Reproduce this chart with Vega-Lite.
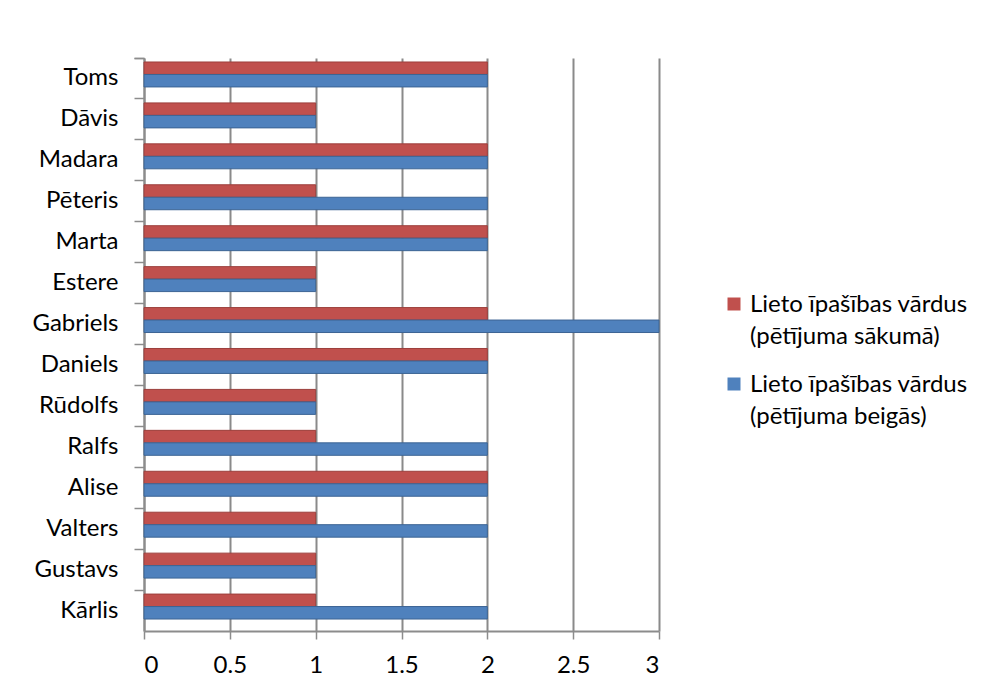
{
  "$schema": "https://vega.github.io/schema/vega-lite/v6.json",
  "autosize": "none",
  "width": 515,
  "height": 573,
  "padding": {"left": 144, "top": 58, "right": 329, "bottom": 69},
  "background": "white",
  "config": {"view": {"stroke": null}, "font": "Lato"},
  "data": {
    "values": [
      {"name": "Toms", "series": "Lieto īpašības vārdus|(pētījuma sākumā)", "value": 2},
      {"name": "Toms", "series": "Lieto īpašības vārdus|(pētījuma beigās)", "value": 2},
      {"name": "Dāvis", "series": "Lieto īpašības vārdus|(pētījuma sākumā)", "value": 1},
      {"name": "Dāvis", "series": "Lieto īpašības vārdus|(pētījuma beigās)", "value": 1},
      {"name": "Madara", "series": "Lieto īpašības vārdus|(pētījuma sākumā)", "value": 2},
      {"name": "Madara", "series": "Lieto īpašības vārdus|(pētījuma beigās)", "value": 2},
      {"name": "Pēteris", "series": "Lieto īpašības vārdus|(pētījuma sākumā)", "value": 1},
      {"name": "Pēteris", "series": "Lieto īpašības vārdus|(pētījuma beigās)", "value": 2},
      {"name": "Marta", "series": "Lieto īpašības vārdus|(pētījuma sākumā)", "value": 2},
      {"name": "Marta", "series": "Lieto īpašības vārdus|(pētījuma beigās)", "value": 2},
      {"name": "Estere", "series": "Lieto īpašības vārdus|(pētījuma sākumā)", "value": 1},
      {"name": "Estere", "series": "Lieto īpašības vārdus|(pētījuma beigās)", "value": 1},
      {"name": "Gabriels", "series": "Lieto īpašības vārdus|(pētījuma sākumā)", "value": 2},
      {"name": "Gabriels", "series": "Lieto īpašības vārdus|(pētījuma beigās)", "value": 3},
      {"name": "Daniels", "series": "Lieto īpašības vārdus|(pētījuma sākumā)", "value": 2},
      {"name": "Daniels", "series": "Lieto īpašības vārdus|(pētījuma beigās)", "value": 2},
      {"name": "Rūdolfs", "series": "Lieto īpašības vārdus|(pētījuma sākumā)", "value": 1},
      {"name": "Rūdolfs", "series": "Lieto īpašības vārdus|(pētījuma beigās)", "value": 1},
      {"name": "Ralfs", "series": "Lieto īpašības vārdus|(pētījuma sākumā)", "value": 1},
      {"name": "Ralfs", "series": "Lieto īpašības vārdus|(pētījuma beigās)", "value": 2},
      {"name": "Alise", "series": "Lieto īpašības vārdus|(pētījuma sākumā)", "value": 2},
      {"name": "Alise", "series": "Lieto īpašības vārdus|(pētījuma beigās)", "value": 2},
      {"name": "Valters", "series": "Lieto īpašības vārdus|(pētījuma sākumā)", "value": 1},
      {"name": "Valters", "series": "Lieto īpašības vārdus|(pētījuma beigās)", "value": 2},
      {"name": "Gustavs", "series": "Lieto īpašības vārdus|(pētījuma sākumā)", "value": 1},
      {"name": "Gustavs", "series": "Lieto īpašības vārdus|(pētījuma beigās)", "value": 1},
      {"name": "Kārlis", "series": "Lieto īpašības vārdus|(pētījuma sākumā)", "value": 1},
      {"name": "Kārlis", "series": "Lieto īpašības vārdus|(pētījuma beigās)", "value": 2}
    ]
  },
  "mark": {"type": "bar", "strokeWidth": 1},
  "encoding": {
    "y": {
      "field": "name",
      "type": "nominal",
      "sort": null,
      "scale": {"paddingInner": 0, "paddingOuter": 0},
      "axis": {
        "title": null,
        "labelFontSize": 24,
        "labelColor": "black",
        "labelPadding": 16,
        "labelFont": "Lato",
        "bandPosition": 0,
        "tickExtra": true,
        "ticks": true,
        "tickSize": 10,
        "tickColor": "#8c8c8c",
        "tickWidth": 1.5,
        "domainColor": "#8c8c8c",
        "domainWidth": 2
      }
    },
    "yOffset": {
      "field": "series",
      "type": "nominal",
      "sort": ["Lieto īpašības vārdus|(pētījuma sākumā)", "Lieto īpašības vārdus|(pētījuma beigās)"],
      "scale": {"paddingInner": 0, "paddingOuter": 0.64, "align": 0.25}
    },
    "x": {
      "field": "value",
      "type": "quantitative",
      "scale": {"domain": [0, 3], "nice": false},
      "axis": {
        "title": null,
        "values": [0, 0.5, 1, 1.5, 2, 2.5, 3],
        "labelExpr": "datum.value",
        "labelFontSize": 24,
        "labelColor": "black",
        "labelPadding": 14,
        "labelFont": "Lato",
        "tickSize": 8,
        "tickColor": "#8c8c8c",
        "tickWidth": 1.5,
        "domainColor": "#8c8c8c",
        "domainWidth": 2,
        "grid": true,
        "gridColor": "#8a8a8a",
        "gridWidth": 2
      }
    },
    "color": {
      "field": "series",
      "type": "nominal",
      "sort": ["Lieto īpašības vārdus|(pētījuma sākumā)", "Lieto īpašības vārdus|(pētījuma beigās)"],
      "scale": {"range": ["#C0504D", "#4F81BD"]},
      "legend": {
        "title": null,
        "orient": "none",
        "legendX": 578,
        "legendY": 234,
        "symbolType": "square",
        "symbolSize": 169,
        "symbolStrokeWidth": 0,
        "labelFontSize": 24,
        "labelFont": "Lato",
        "labelColor": "black",
        "labelExpr": "split(datum.label, '|')",
        "labelLimit": 400,
        "labelBaseline": "alphabetic",
        "labelOffset": 4,
        "rowPadding": 23,
        "encode": {"labels": {"update": {"lineHeight": {"value": 32}, "dy": {"value": 8}}}}
      }
    },
    "stroke": {
      "field": "series",
      "type": "nominal",
      "sort": ["Lieto īpašības vārdus|(pētījuma sākumā)", "Lieto īpašības vārdus|(pētījuma beigās)"],
      "scale": {"range": ["#9c3f3c", "#3c6494"]},
      "legend": null
    }
  }
}
